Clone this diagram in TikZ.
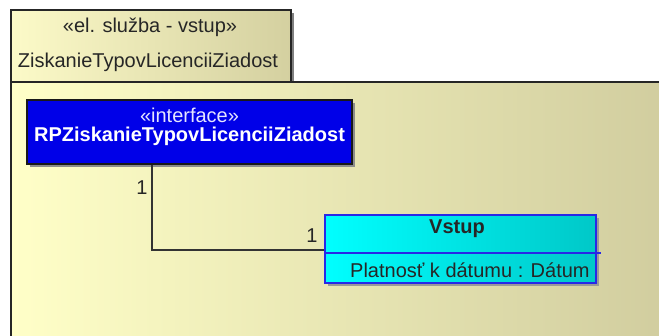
\documentclass[tikz,border=0pt]{standalone}
\usepackage{fontspec}
\setmainfont{Liberation Sans}
\begin{document}
\begin{tikzpicture}[x=1pt,y=-1pt,
  txt/.style={font=\fontsize{20}{23}\selectfont, inner sep=0pt, text=black!85},
  btxt/.style={font=\fontsize{20}{23}\selectfont\bfseries, inner sep=0pt},
  conn/.style={draw=black!80, line width=1.3pt}
]
\useasboundingbox (0,0) rectangle (659,335);
\clip (0,0) rectangle (659,335);
\fill[white] (0,0) rectangle (659,335);
% package tab
\fill[black!50] (14,13) rectangle (294,85);
\shade[left color={rgb,255:red,252;green,250;blue,200}, right color={rgb,255:red,212;green,208;blue,160}, draw=black!85, line width=1.3pt]
  (11,10) rectangle (291,82);
% package body
\shade[left color={rgb,255:red,255;green,255;blue,200}, right color={rgb,255:red,208;green,204;blue,158}, draw=black!85, line width=1.3pt]
  (11,82) rectangle (680,360);
\node[txt] (ster) at (150,27) {«el. služba - vstup»};
\node[txt] (pname) at (148,62) {ZiskanieTypovLicenciiZiadost};
% interface box
\fill[black!45] (30,103) rectangle (355,167);
\node[draw=black!90, line width=1.2pt, fill={rgb,255:red,0;green,0;blue,232}, minimum width=325pt, minimum height=64pt, inner sep=0pt] (iface) at (189.5,132) {};
\node[txt, text=white!90!blue] (istereo) at (189.5,115) {«interface»};
\node[btxt, text=white] (iname) at (189.5,136) {RPZiskanieTypovLicenciiZiadost};
% Vstup box
\fill[black!40] (328,218) rectangle (599,286);
\shade[left color={rgb,255:red,0;green,255;blue,255}, right color={rgb,255:red,0;green,200;blue,200}] (325,215) rectangle (596,283);
\node[draw={rgb,255:red,40;green,40;blue,230}, line width=1.2pt, minimum width=271pt, minimum height=68pt, inner sep=0pt] (vstup) at (460.5,249) {};
\draw[draw={rgb,255:red,40;green,40;blue,230}, line width=1.2pt] (vstup.west |- 0,253) coordinate (sepl) -- ([xshift=4pt]sepl -| vstup.east);
\node[btxt, text=black!85] (vname) at (457,229) {Vstup};
\node[txt, anchor=west] (vattr) at (350,270) {Platnosť k dátumu : Dátum};
% connector
\coordinate (bend) at (152,250);
\draw[conn] (iface.south -| bend) -- (bend) -- (bend -| vstup.west);
\node[txt] (m1) at (142,188) {1};
\node[txt] (m2) at (312,236) {1};
\end{tikzpicture}
\end{document}
